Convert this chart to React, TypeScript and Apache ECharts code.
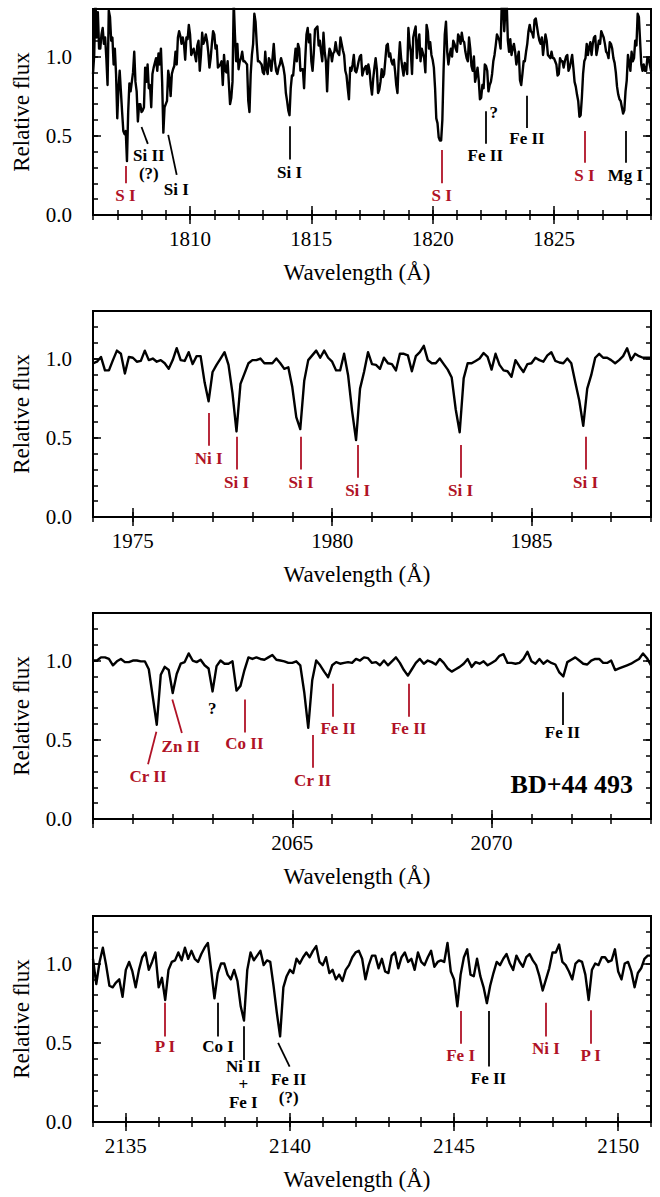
import React, { useEffect, useRef } from "react";
import * as echarts from "echarts";

// ---------- data ----------
const P1_START = 1806;
const P1_STEP = 0.05;
const P1_FLUX = [
  0.89, 1.01, 1.35, 1.12, 1.28, 1.05, 1.05, 1.14, 1.18, 1.08,
  1.12, 0.99, 0.82, 1.29, 1.25, 1.10, 1.12, 0.95, 1.05, 0.89,
  0.61, 0.80, 0.91, 0.78, 0.65, 0.53, 0.51, 0.53, 0.34, 0.65,
  0.83, 0.78, 0.84, 0.90, 1.03, 0.84, 0.78, 0.59, 0.70, 0.70,
  0.65, 0.66, 0.68, 0.93, 0.84, 0.95, 0.80, 0.82, 0.68, 0.89,
  0.93, 0.96, 0.99, 0.91, 1.02, 0.95, 1.05, 0.84, 0.52, 0.68,
  0.70, 0.72, 0.91, 0.86, 0.75, 0.89, 0.92, 0.94, 1.03, 0.95,
  1.12, 1.16, 1.13, 1.08, 1.12, 1.08, 0.98, 1.12, 1.11, 1.20,
  1.14, 1.01, 1.03, 1.05, 1.01, 0.97, 1.07, 1.10, 0.91, 1.01,
  1.15, 1.08, 1.10, 1.14, 1.10, 1.03, 0.93, 0.99, 1.08, 1.16,
  1.14, 1.05, 1.07, 0.93, 0.94, 0.95, 0.97, 0.82, 1.01, 0.91,
  0.90, 0.97, 0.83, 0.70, 0.74, 0.84, 1.35, 1.14, 0.97, 1.08,
  0.92, 0.97, 0.99, 1.03, 0.97, 0.97, 0.96, 0.95, 0.72, 0.65,
  0.89, 1.01, 1.08, 1.27, 1.22, 1.08, 0.97, 0.97, 0.96, 0.95,
  0.90, 0.89, 1.03, 0.92, 0.89, 0.99, 0.97, 0.91, 0.99, 1.08,
  0.97, 0.91, 0.89, 0.93, 0.95, 0.99, 0.96, 0.93, 0.88, 0.77,
  0.72, 0.66, 0.63, 0.80, 0.88, 0.88, 0.97, 1.05, 0.97, 1.08,
  1.05, 0.91, 0.92, 0.92, 0.80, 0.99, 1.14, 1.18, 1.09, 1.14,
  0.97, 0.91, 1.02, 1.17, 1.18, 1.19, 1.07, 1.10, 1.03, 0.97,
  1.15, 1.03, 0.97, 0.78, 0.98, 1.05, 1.03, 0.97, 1.02, 1.03,
  1.09, 1.04, 1.02, 1.01, 1.12, 1.08, 1.04, 1.01, 0.91, 0.88,
  0.80, 0.73, 0.93, 0.91, 0.95, 1.01, 0.91, 0.90, 0.93, 0.97,
  1.00, 1.01, 0.88, 0.91, 0.93, 0.94, 0.89, 0.95, 0.91, 0.82,
  0.76, 0.86, 0.93, 0.99, 0.92, 0.77, 0.79, 0.84, 0.92, 0.87,
  0.89, 0.98, 1.07, 1.08, 1.00, 1.02, 0.97, 0.95, 0.98, 0.91,
  0.82, 0.77, 0.97, 1.09, 0.99, 0.93, 0.88, 0.96, 0.94, 0.89,
  1.18, 1.08, 1.03, 0.89, 1.12, 1.16, 1.19, 0.99, 1.08, 1.14,
  0.97, 1.05, 1.02, 0.99, 0.90, 1.20, 1.16, 1.05, 1.09, 1.01,
  0.98, 0.93, 0.80, 0.61, 0.58, 0.49, 0.47, 0.47, 0.60, 0.91,
  1.14, 1.22, 1.03, 0.95, 1.01, 1.05, 1.00, 1.10, 1.08, 1.05,
  1.03, 1.14, 1.12, 1.08, 1.15, 1.10, 1.09, 1.03, 0.99, 0.97,
  1.12, 1.05, 0.94, 0.91, 1.00, 0.84, 0.88, 0.93, 0.85, 0.73,
  0.74, 0.82, 0.80, 0.95, 0.94, 0.91, 0.78, 0.82, 0.84, 0.89,
  0.97, 1.01, 1.07, 1.14, 1.12, 1.10, 1.05, 1.35, 1.35, 1.16,
  1.30, 1.35, 1.10, 1.03, 1.11, 1.01, 1.05, 1.08, 1.03, 0.95,
  0.99, 1.03, 0.85, 0.82, 0.89, 0.97, 0.97, 1.03, 1.08, 1.16,
  1.20, 1.16, 1.15, 1.12, 1.23, 1.24, 1.19, 1.14, 1.10, 1.08,
  1.12, 1.01, 1.08, 1.14, 1.10, 1.01, 1.00, 0.99, 1.03, 0.99,
  0.99, 0.97, 0.95, 0.88, 0.89, 0.99, 0.97, 0.97, 0.93, 0.97,
  1.00, 1.01, 0.91, 0.93, 0.97, 1.01, 0.93, 0.84, 0.81, 0.76,
  0.72, 0.62, 0.63, 0.74, 0.89, 0.97, 0.99, 1.08, 1.01, 1.06,
  1.09, 1.01, 1.08, 1.12, 1.13, 1.01, 1.05, 1.10, 1.08, 1.16,
  1.14, 1.12, 1.08, 1.03, 1.02, 0.99, 1.09, 1.08, 1.05, 0.99,
  0.96, 0.90, 0.81, 0.76, 0.73, 0.72, 0.68, 0.64, 0.66, 0.78,
  0.85, 1.01, 0.96, 0.91, 1.03, 0.97, 0.99, 1.10, 1.07, 1.27,
  1.25, 1.10, 0.95, 0.91, 0.95, 0.91, 0.91, 0.99, 0.99, 0.95,
  0.91,
];

const P2_START = 1974;
const P2_STEP = 0.1;
const P2_FLUX = [
  0.97, 0.98, 1.01, 0.925, 0.925, 0.99, 1.05, 1.03, 0.905, 1.01,
  1.005, 0.98, 0.985, 1.05, 0.99, 1.0, 0.98, 0.99, 0.97, 0.935,
  0.99, 1.065, 0.99, 0.985, 1.04, 0.965, 1.015, 1.015, 0.85, 0.73,
  0.915, 0.96, 1.0, 1.04, 0.96, 0.78, 0.54, 0.84, 0.905, 0.97,
  0.99, 0.99, 1.0, 0.97, 0.97, 0.97, 1.0, 0.97, 0.935, 0.945,
  0.82, 0.63, 0.555, 0.86, 0.99, 1.02, 1.05, 1.005, 1.05, 1.005,
  0.98, 0.925, 0.925, 1.03, 0.895, 0.67, 0.485, 0.81, 0.915, 1.04,
  0.965, 0.96, 0.935, 1.005, 0.97, 0.965, 0.925, 1.03, 1.03, 1.02,
  0.92, 1.015, 1.04, 1.08, 0.99, 0.97, 0.97, 1.0, 0.965, 0.93,
  0.88, 0.68, 0.535, 0.875, 0.97, 0.97, 0.985, 1.0, 1.035, 1.01,
  0.93, 1.03, 0.96, 0.925, 0.92, 0.885, 0.99, 0.95, 0.915, 0.965,
  0.97, 1.005, 0.99, 0.98, 1.02, 1.04, 0.985, 0.975, 0.97, 1.0,
  0.97, 0.85, 0.735, 0.575, 0.81, 0.895, 1.005, 1.03, 1.005, 1.005,
  0.99, 0.97, 0.99, 1.015, 1.065, 0.99, 1.03, 1.015, 1.005, 1.005,
  1.005,
];

const P3_START = 2060;
const P3_STEP = 0.1;
const P3_FLUX = [
  1.0, 1.0, 1.02, 1.02, 1.01, 0.97, 0.995, 1.01, 0.99, 0.99,
  1.0, 1.0, 0.995, 0.995, 0.945, 0.77, 0.595, 0.91, 0.96, 0.94,
  0.795, 0.915, 0.98, 0.99, 1.045, 1.0, 0.99, 1.005, 0.97, 0.95,
  0.805, 0.965, 1.0, 0.98, 0.98, 0.995, 0.81, 0.84, 0.94, 1.02,
  1.01, 1.02, 1.01, 1.005, 1.02, 1.035, 1.005, 1.0, 0.995, 0.985,
  0.985, 0.995, 0.97, 0.8, 0.575, 0.875, 1.0, 0.97, 0.93, 0.895,
  0.97, 0.99, 0.98, 0.985, 0.99, 0.985, 1.01, 1.0, 1.02, 1.015,
  0.985, 0.99, 0.97, 1.0, 0.97, 0.995, 1.02, 0.985, 0.94, 0.905,
  0.945, 0.985, 1.01, 0.98, 1.0, 0.99, 0.975, 1.01, 0.985, 0.95,
  0.93, 0.945, 0.96, 0.98, 1.01, 0.96, 0.99, 0.98, 0.995, 0.97,
  0.985, 1.0, 1.03, 1.04, 0.985, 0.985, 0.98, 0.985, 1.01, 1.055,
  0.995, 0.98, 1.01, 0.98, 1.0, 0.985, 0.975, 0.925, 0.9, 0.99,
  1.005, 1.02, 1.0, 0.98, 0.975, 1.0, 1.01, 1.01, 0.985, 0.985,
  1.0, 0.94, 0.95, 0.96, 0.97, 0.98, 0.995, 1.01, 1.045, 1.015,
  0.97,
];

const P4_START = 2134;
const P4_STEP = 0.1;
const P4_FLUX = [
  1.03, 0.87, 1.01, 1.1, 0.99, 0.86, 0.85, 0.88, 0.9, 0.79,
  0.96, 1.01, 0.95, 0.85, 0.96, 1.04, 1.07, 0.96, 1.01, 1.07,
  0.85, 0.91, 0.77, 0.96, 1.01, 1.02, 1.07, 1.02, 1.1, 1.03,
  1.08, 1.03, 1.01, 1.06, 1.1, 1.13, 0.96, 0.78, 0.94, 1.0,
  1.0, 0.93, 0.9, 0.96, 0.89, 0.73, 0.64, 0.96, 1.07, 1.02,
  1.05, 1.08, 0.99, 1.02, 1.01, 0.86, 0.69, 0.54, 0.85, 0.92,
  0.96, 0.94, 1.03, 1.0, 1.04, 1.07, 1.04, 1.08, 1.11, 1.01,
  0.99, 1.04, 0.94, 0.96, 0.9, 0.93, 0.89, 0.96, 0.99, 1.04,
  1.07, 1.08, 1.03, 0.9, 0.99, 1.05, 1.05, 0.97, 1.03, 0.95,
  0.94, 1.05, 1.07, 0.97, 1.04, 1.07, 1.01, 1.03, 0.96, 1.07,
  1.01, 0.99, 1.04, 1.08, 0.98, 1.01, 1.02, 1.01, 1.13, 0.95,
  0.9, 0.73, 0.93, 1.04, 1.09, 0.93, 0.92, 1.03, 0.92, 0.85,
  0.75, 0.86, 0.94, 1.01, 0.99, 1.03, 1.06, 1.0, 0.96, 1.05,
  1.01, 0.98, 1.04, 1.06, 1.02, 0.99, 0.92, 0.83, 0.9, 0.97,
  1.07, 1.07, 1.12, 1.01, 0.99, 0.95, 0.9, 1.0, 1.02, 1.01,
  0.93, 0.77, 0.96, 1.0, 0.99, 1.04, 1.04, 1.01, 1.02, 1.09,
  0.95, 0.9, 1.0, 1.01, 0.95, 0.85, 0.94, 0.97, 1.03, 1.05,
  1.05,
];

// axis ranges & ticks
const X_MIN = [1806, 1974, 2060, 2134];
const X_MAX = [1829, 1988, 2074, 2151];
const X_MAJOR = [
  [1810, 1815, 1820, 1825],
  [1975, 1980, 1985],
  [2060, 2065, 2070],
  [2135, 2140, 2145, 2150],
];
const X_LABELS = [
  [1810, 1815, 1820, 1825],
  [1975, 1980, 1985],
  [2065, 2070],
  [2135, 2140, 2145, 2150],
];
const Y_MAJOR = [0, 0.5, 1.0];

// line identifications: [lambda1, flux1, lambda2, flux2, colour]
const R = "r";
const K = "k";
const MARKS_P1 = [
  [1807.34, 0.31, 1807.34, 0.2, R],
  [1808.0, 0.555, 1808.26, 0.449, K],
  [1809.1, 0.506, 1809.45, 0.253, K],
  [1814.1, 0.56, 1814.1, 0.35, K],
  [1820.37, 0.41, 1820.37, 0.2, R],
  [1822.17, 0.654, 1822.17, 0.449, K],
  [1823.89, 0.753, 1823.89, 0.549, K],
  [1826.26, 0.53, 1826.26, 0.33, R],
  [1827.95, 0.53, 1827.95, 0.33, K],
];
const LABELS_P1 = [
  [1807.34, 0.12, "S I", R],
  [1808.3, 0.318, "Si II\n(?)", K],
  [1809.43, 0.16, "Si I", K],
  [1814.1, 0.27, "Si I", K],
  [1820.37, 0.12, "S I", R],
  [1822.17, 0.373, "Fe II", K],
  [1822.52, 0.65, "?", K],
  [1823.89, 0.48, "Fe II", K],
  [1826.26, 0.247, "S I", R],
  [1827.95, 0.247, "Mg I", K],
];
const MARKS_P2 = [
  [1976.9, 0.657, 1976.9, 0.449, R],
  [1977.6, 0.506, 1977.6, 0.3, R],
  [1979.22, 0.506, 1979.22, 0.3, R],
  [1980.64, 0.455, 1980.64, 0.248, R],
  [1983.22, 0.455, 1983.22, 0.248, R],
  [1986.36, 0.506, 1986.36, 0.3, R],
];
const LABELS_P2 = [
  [1976.9, 0.369, "Ni I", R],
  [1977.6, 0.22, "Si I", R],
  [1979.22, 0.22, "Si I", R],
  [1980.64, 0.17, "Si I", R],
  [1983.22, 0.17, "Si I", R],
  [1986.36, 0.22, "Si I", R],
];
const MARKS_P3 = [
  [2061.59, 0.55, 2061.38, 0.345, R],
  [2061.99, 0.754, 2062.23, 0.542, R],
  [2063.8, 0.754, 2063.8, 0.546, R],
  [2065.51, 0.53, 2065.51, 0.324, R],
  [2066.02, 0.854, 2066.02, 0.646, R],
  [2067.92, 0.854, 2067.92, 0.646, R],
  [2071.78, 0.8, 2071.78, 0.593, K],
];
const LABELS_P3 = [
  [2061.38, 0.267, "Cr II", R],
  [2062.2, 0.46, "Zn II", R],
  [2062.99, 0.695, "?", K],
  [2063.8, 0.479, "Co II", R],
  [2065.51, 0.243, "Cr II", R],
  [2066.15, 0.568, "Fe II", R],
  [2067.92, 0.568, "Fe II", R],
  [2071.78, 0.547, "Fe II", K],
];
const MARKS_P4 = [
  [2136.19, 0.753, 2136.19, 0.54, R],
  [2137.81, 0.753, 2137.81, 0.54, K],
  [2138.58, 0.604, 2138.58, 0.392, K],
  [2139.64, 0.5, 2139.99, 0.35, K],
  [2145.2, 0.7, 2145.2, 0.494, R],
  [2146.05, 0.7, 2146.05, 0.35, K],
  [2147.8, 0.753, 2147.8, 0.54, R],
  [2149.16, 0.705, 2149.16, 0.494, R],
];
const LABELS_P4 = [
  [2136.19, 0.477, "P I", R],
  [2137.81, 0.477, "Co I", K],
  [2138.58, 0.237, "Ni II\n+\nFe I", K],
  [2139.96, 0.21, "Fe II\n(?)", K],
  [2145.2, 0.42, "Fe I", R],
  [2146.05, 0.276, "Fe II", K],
  [2147.8, 0.462, "Ni I", R],
  [2149.16, 0.42, "P I", R],
];

const STAR_NAME = "BD+44 493";

// ---------- layout / style ----------
const FONT = '"Liberation Serif", "Times New Roman", serif';
const RED = "#b01226";
const TOPS = [9, 311, 613, 916];
const GRID_LEFT = 93;
const GRID_W = 558;
const GRID_H = 206;

const colorOf = (c: string) => (c === R ? RED : "#000");

function buildOption() {
  const starts = [P1_START, P2_START, P3_START, P4_START];
  const steps = [P1_STEP, P2_STEP, P3_STEP, P4_STEP];
  const fluxes = [P1_FLUX, P2_FLUX, P3_FLUX, P4_FLUX];
  const marks = [MARKS_P1, MARKS_P2, MARKS_P3, MARKS_P4];
  const labels = [LABELS_P1, LABELS_P2, LABELS_P3, LABELS_P4];

  const grid: any[] = [];
  const xAxis: any[] = [];
  const yAxis: any[] = [];
  const series: any[] = [];

  const tickStyle = { color: "#000", width: 1.5 };

  for (let i = 0; i < 4; i++) {
    grid.push({
      left: GRID_LEFT,
      top: TOPS[i],
      width: GRID_W,
      height: GRID_H,
      show: true,
      borderColor: "#000",
      borderWidth: 2,
      backgroundColor: "transparent",
      containLabel: false,
    });
    const xBase = {
      gridIndex: i,
      type: "value",
      min: X_MIN[i],
      max: X_MAX[i],
      axisLine: { show: false },
      splitLine: { show: false },
    };
    xAxis.push({
      ...xBase,
      position: "bottom",
      axisTick: { show: true, inside: true, length: 9, lineStyle: tickStyle, customValues: X_MAJOR[i] },
      axisLabel: {
        show: true,
        customValues: X_LABELS[i],
        margin: 13,
        fontSize: 21,
        fontFamily: FONT,
        color: "#000",
        formatter: (v: number) => String(v),
      },
      name: "Wavelength (Å)",
      nameLocation: "middle",
      nameGap: 46,
      nameTextStyle: { fontSize: 23, fontFamily: FONT, color: "#000", padding: [0, 30, 0, 0] },
    });
    xAxis.push({
      ...xBase,
      position: "bottom",
      interval: 1,
      axisTick: { show: true, inside: true, length: 5, lineStyle: tickStyle },
      axisLabel: { show: false },
    });
    xAxis.push({
      ...xBase,
      position: "top",
      axisTick: { show: true, inside: true, length: 9, lineStyle: tickStyle, customValues: X_MAJOR[i] },
      axisLabel: { show: false },
    });
    xAxis.push({
      ...xBase,
      position: "top",
      interval: 1,
      axisTick: { show: true, inside: true, length: 5, lineStyle: tickStyle },
      axisLabel: { show: false },
    });

    const yBase = {
      gridIndex: i,
      type: "value",
      min: 0,
      max: 1.3,
      axisLine: { show: false },
      splitLine: { show: false },
    };
    yAxis.push({
      ...yBase,
      position: "left",
      axisTick: { show: true, inside: true, length: 8, lineStyle: tickStyle, customValues: Y_MAJOR },
      axisLabel: {
        show: true,
        customValues: Y_MAJOR,
        margin: 21,
        fontSize: 21,
        fontFamily: FONT,
        color: "#000",
        formatter: (v: number) => v.toFixed(1),
      },
      name: "Relative flux",
      nameLocation: "middle",
      nameGap: 60,
      nameRotate: 90,
      nameTextStyle: { fontSize: 23, fontFamily: FONT, color: "#000" },
    });
    yAxis.push({
      ...yBase,
      position: "left",
      interval: 0.1,
      axisTick: { show: true, inside: true, length: 5, lineStyle: tickStyle },
      axisLabel: { show: false },
    });
    yAxis.push({
      ...yBase,
      position: "right",
      axisTick: { show: true, inside: true, length: 8, lineStyle: tickStyle, customValues: Y_MAJOR },
      axisLabel: { show: false },
    });
    yAxis.push({
      ...yBase,
      position: "right",
      interval: 0.1,
      axisTick: { show: true, inside: true, length: 5, lineStyle: tickStyle },
      axisLabel: { show: false },
    });

    const data = fluxes[i].map((f, k) => [+(starts[i] + k * steps[i]).toFixed(3), f]);
    series.push({
      type: "line",
      xAxisIndex: i * 4,
      yAxisIndex: i * 4,
      data,
      showSymbol: false,
      symbol: "none",
      clip: true,
      z: 3,
      lineStyle: { color: "#000", width: 2.4, join: "round" },
      markLine: {
        silent: true,
        symbol: ["none", "none"],
        label: { show: false },
        lineStyle: { type: "solid", width: 1.8 },
        data: marks[i].map((m: any) => [
          { coord: [m[0], m[1]], lineStyle: { color: colorOf(m[4]), width: 1.8, type: "solid" } },
          { coord: [m[2], m[3]] },
        ]),
      },
    });
    const lab = labels[i];
    series.push({
      type: "custom",
      xAxisIndex: i * 4,
      yAxisIndex: i * 4,
      silent: true,
      z: 4,
      clip: false,
      data: lab.map((l: any) => [l[0], l[1]]),
      renderItem: (params: any, api: any) => {
        const item: any = lab[params.dataIndex];
        const p = api.coord([api.value(0), api.value(1)]);
        return {
          type: "text",
          x: p[0],
          y: p[1],
          style: {
            text: item[2],
            fill: colorOf(item[3]),
            font: `bold 17px ${FONT}`,
            align: "center",
            verticalAlign: "middle",
            lineHeight: 18,
          },
        };
      },
    });
  }

  return {
    animation: false,
    backgroundColor: "#fff",
    grid,
    xAxis,
    yAxis,
    series,
    graphic: [
      {
        type: "text",
        right: 27,
        top: 771,
        style: { text: STAR_NAME, font: `bold 26px ${FONT}`, fill: "#000" },
      },
    ],
  };
}

export default function App() {
  const ref = useRef<HTMLDivElement>(null);
  useEffect(() => {
    document.body.style.margin = "0";
    if (!ref.current) return;
    const chart = echarts.init(ref.current, undefined, { renderer: "svg" });
    chart.setOption(buildOption() as any);
    return () => chart.dispose();
  }, []);
  return <div ref={ref} style={{ width: 660, height: 1197 }} />;
}
